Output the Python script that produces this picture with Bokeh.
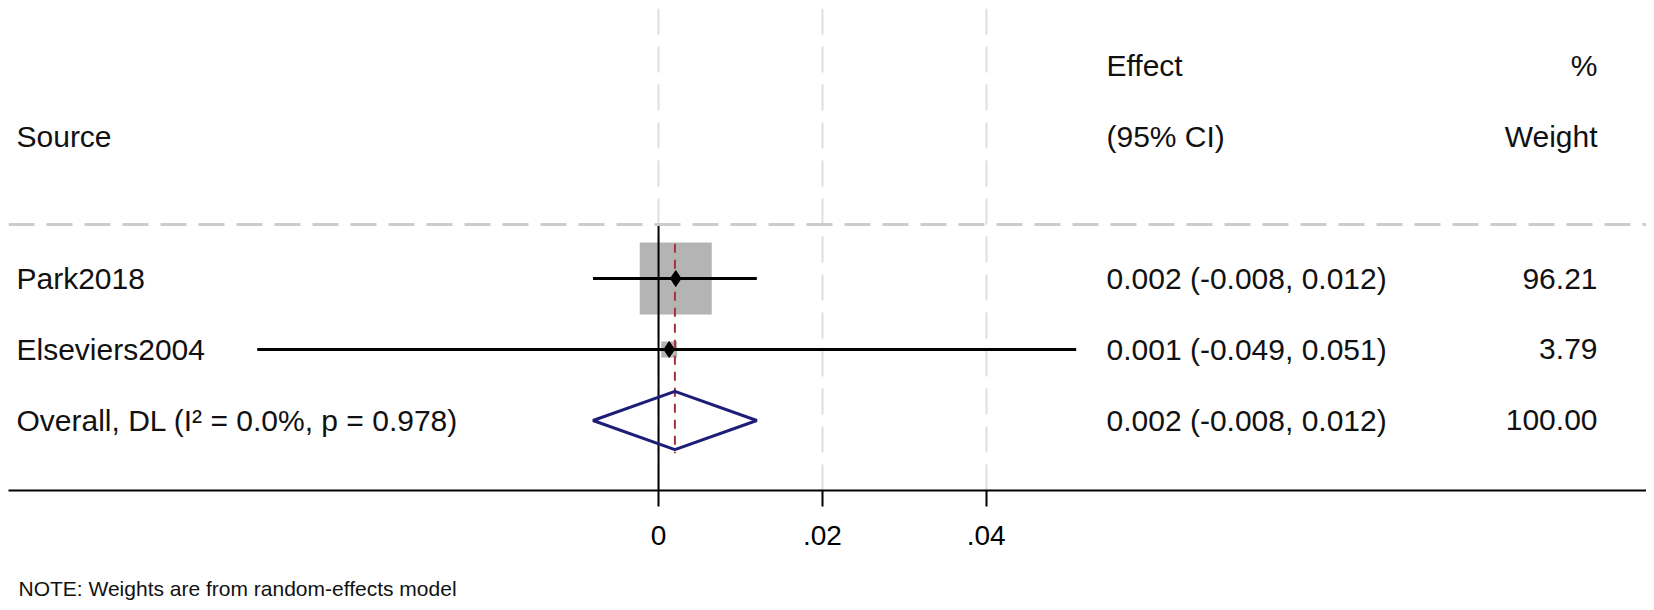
from bokeh.plotting import figure
from bokeh.models import FixedTicker, Span, Title, ColumnDataSource
from bokeh.core.properties import value
from bokeh.embed import file_html
from bokeh.resources import INLINE

# ---- data ----
studies = ["Park2018", "Elseviers2004"]
est = [0.0021, 0.0013]
ci_lo = [-0.008, -0.049]
ci_hi = [0.012, 0.051]
weights = [96.21, 3.79]
effect_text = ["0.002 (-0.008, 0.012)", "0.001 (-0.049, 0.051)"]
weight_text = ["96.21", "3.79"]

overall_label = "Overall, DL (I² = 0.0%, p = 0.978)"
overall_est = 0.002
overall_lo = -0.008
overall_hi = 0.012
overall_effect_text = "0.002 (-0.008, 0.012)"
overall_weight_text = "100.00"

header_source = "Source"
header_effect = ["Effect", "(95% CI)"]
header_weight = ["%", "Weight"]
tick_values = [0, 0.02, 0.04]
tick_labels = ["0", ".02", ".04"]
note = "NOTE: Weights are from random-effects model"

# ---- layout ----
FRAME_W, FRAME_H = 1638, 482
LEFT, TOP = 8, 8
X_START, X_END = -0.07937, 0.12063
Y_START, Y_END = -0.986, 5.803
PPU = FRAME_W / (X_END - X_START)  # pixels per x unit
FONT = value("Liberation Sans")
TXT = "30px"

def px(offset):
    return X_START + offset / PPU

left_x = px(8)
effect_x = px(1098)
weight_x = px(1589)

n = len(studies)
rows = [n - i for i in range(n)]
overall_row = 0
sep_row = n + 0.76
header_rows = [n + 3, n + 2]

p = figure(frame_width=FRAME_W, frame_height=FRAME_H, output_backend="svg",
           toolbar_location=None,
           x_range=(X_START, X_END), y_range=(Y_START, Y_END),
           y_axis_location=None, min_border_left=LEFT, min_border_right=0,
           min_border_top=TOP, min_border_bottom=0)
p.outline_line_color = None
p.background_fill_color = "white"
p.border_fill_color = "white"

# grid
p.ygrid.visible = False
p.xgrid.ticker = FixedTicker(ticks=tick_values)
p.xgrid.grid_line_color = "#dedede"
p.xgrid.grid_line_width = 2
p.xgrid.grid_line_dash = "26 12"

# axis
ax = p.xaxis[0]
ax.ticker = FixedTicker(ticks=tick_values)
ax.major_label_overrides = {v: l for v, l in zip(tick_values, tick_labels)}
ax.axis_line_width = 2
ax.axis_line_color = "black"
ax.major_tick_line_width = 2
ax.major_tick_line_color = "black"
ax.major_tick_out = 16
ax.major_tick_in = 0
ax.minor_tick_out = 0
ax.minor_tick_in = 0
ax.major_label_text_font = "Liberation Sans"
ax.major_label_text_font_size = "28px"
ax.major_label_text_color = "black"
ax.major_label_standoff = 19
# blank axis label: only reserves space between the ticks and the note
ax.axis_label = " "
ax.axis_label_standoff = 3
ax.axis_label_text_font = "Liberation Sans"
ax.axis_label_text_font_size = "21px"
ax.axis_label_text_font_style = "normal"

# separator
p.add_layout(Span(location=sep_row, dimension="width", line_color="#cccccc",
                  line_width=3, line_dash="26 12"))

src = ColumnDataSource(dict(
    study=studies, est=est, lo=ci_lo, hi=ci_hi, y=rows,
    size=[70 * (w / max(weights)) ** 0.5 + 2 for w in weights],
    eff=effect_text, wt=weight_text,
))

# weight boxes
p.rect(x="est", y="y", width="size", height="size", width_units="screen",
       height_units="screen", source=src, fill_color="#b4b4b4",
       line_color=None)

# zero line
p.segment(x0=0, y0=sep_row, x1=0, y1=Y_START, line_color="black", line_width=2)

# overall dashed line
p.segment(x0=overall_est, y0=n + 0.49, x1=overall_est, y1=-0.46,
          line_color="#a3323c", line_width=2, line_dash="9 7")

# CI lines
p.segment(x0="lo", y0="y", x1="hi", y1="y", source=src, line_color="black",
          line_width=3)
p.scatter(x="est", y="y", source=src, marker="diamond", size=16,
          fill_color="black", line_color="black")

# overall diamond
h = 0.41
p.patch(x=[overall_lo, overall_est, overall_hi, overall_est, overall_lo],
        y=[overall_row, overall_row + h, overall_row, overall_row - h, overall_row],
        fill_color=None, line_color="#1e1e7a", line_width=3)

# texts
tcol = "#111111"
p.text(x=[left_x] * (n + 2), y=[header_rows[1]] + rows + [overall_row],
       text=[header_source] + studies + [overall_label],
       text_font=FONT, text_font_size=TXT, text_baseline="middle",
       text_align="left", text_color=tcol)
p.text(x=[effect_x] * (n + 3), y=header_rows + rows + [overall_row],
       text=header_effect + effect_text + [overall_effect_text],
       text_font=FONT, text_font_size=TXT, text_baseline="middle",
       text_align="left", text_color=tcol)
p.text(x=[weight_x] * (n + 3), y=header_rows + rows + [overall_row],
       text=header_weight + weight_text + [overall_weight_text],
       text_font=FONT, text_font_size=TXT, text_baseline="middle",
       text_align="right", text_color=tcol)

# note
p.add_layout(Title(text=note, align="left", vertical_align="top",
                   text_font_size="21px", text_font="Liberation Sans",
                   text_font_style="normal", text_color=tcol,
                   offset=10, standoff=0), "below")

open("out.html", "w").write(file_html(p, INLINE))
